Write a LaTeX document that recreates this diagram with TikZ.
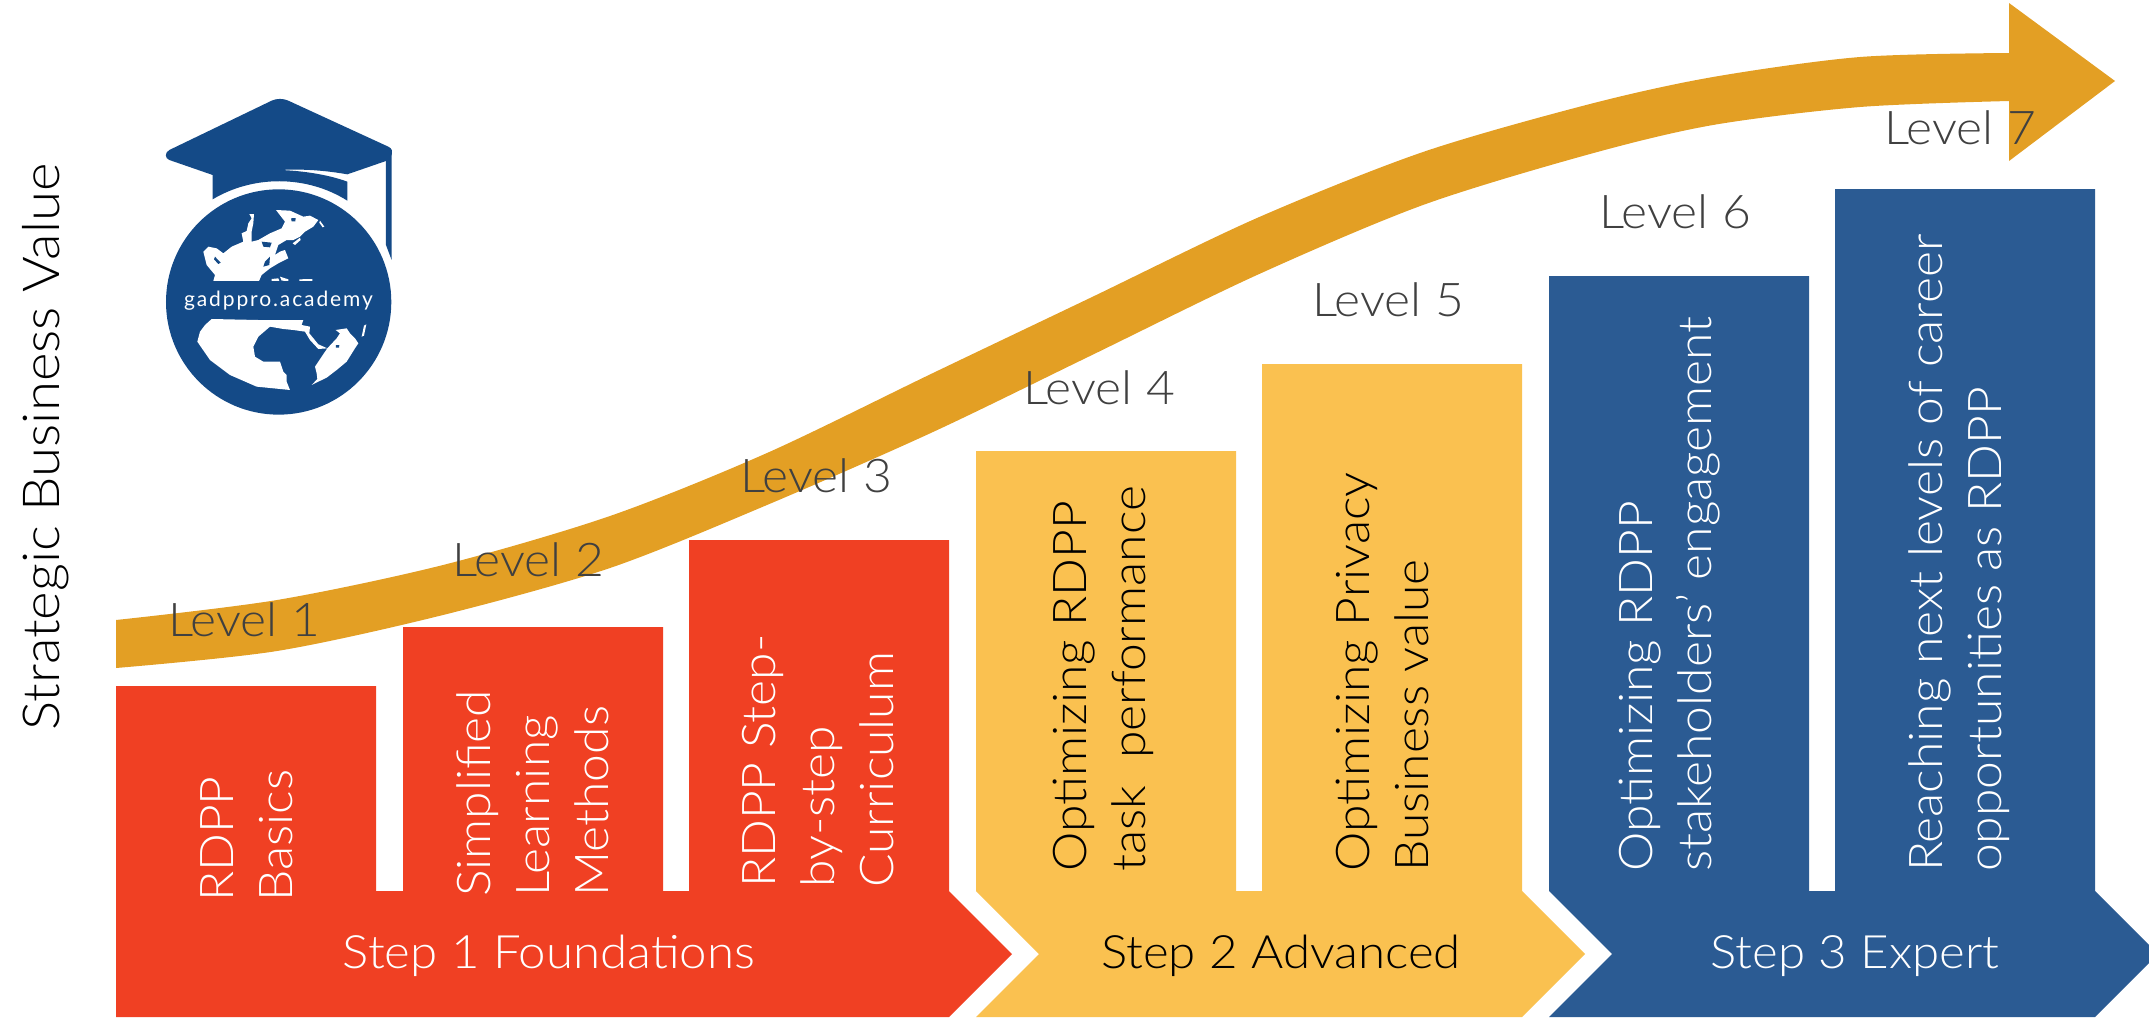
\documentclass[tikz,border=0pt]{standalone}
\usepackage{fontspec}
\setmainfont{Lato}[UprightFont=* Light,FakeStretch=1.07]
\newfontfamily\logofont{Lato}
\usetikzlibrary{calc}
\definecolor{gold}{HTML}{E39F24}
\definecolor{redc}{HTML}{F04023}
\definecolor{yelc}{HTML}{FAC150}
\definecolor{bluc}{HTML}{2B5B93}
\definecolor{logoc}{HTML}{144A87}
\definecolor{lvl}{HTML}{404040}
\newcommand\firststrut{\vrule height 40pt width 0pt\relax}
\tikzset{
  leveltxt/.style={anchor=base west,inner sep=0pt,text=lvl,font=\fontsize{46.5}{56}\selectfont},
  steptxt/.style={anchor=base,inner sep=0pt,font=\fontsize{46}{56}\selectfont},
  boxtxt/.style={anchor=north west,rotate=90,inner sep=0pt,align=left,font=\fontsize{46.5}{59}\selectfont},
  land/.style={fill=white,draw=none},
  sea/.style={fill=logoc,draw=none}
}
\begin{document}
\begin{tikzpicture}[x=1pt,y=-1pt]
\useasboundingbox (0,0) rectangle (2149,1018);
\clip (0,0) rectangle (2149,1018);
% swoosh
\fill[gold] plot[smooth,tension=.5] coordinates {(116,620) (277,600) (443,565) (610,516) (767,453) (933,373) (1090,298) (1257,218) (1423,152) (1590,104) (1713,77) (1860,57) (2009,53)}
  -- plot[smooth,tension=.5] coordinates {(2009,101) (1860,107) (1713,125) (1590,154) (1423,205) (1257,275) (1090,356) (933,432) (767,505) (610,568) (443,615) (277,651) (116,668)} -- cycle;
\fill[gold] (2009,3) -- (2115,81) -- (2009,161) -- cycle;
% red
\fill[redc] (116,1017) -- (116,686) -- (376,686) -- (376,891) -- (403,891) -- (403,627) -- (663,627) -- (663,891) -- (689,891) -- (689,540) -- (949,540) -- (949,891) -- (1012,954) -- (949,1017) -- cycle;
% yellow
\fill[yelc] (976,1017) -- (1039,954) -- (976,891) -- (976,451) -- (1236,451) -- (1236,891) -- (1262,891) -- (1262,364) -- (1522,364) -- (1522,891) -- (1585,954) -- (1522,1017) -- cycle;
% blue
\fill[bluc] (1549,1017) -- (1612,954) -- (1549,891) -- (1549,276) -- (1809,276) -- (1809,891) -- (1835,891) -- (1835,189) -- (2095,189) -- (2095,891) -- (2158,954) -- (2095,1017) -- cycle;
% logo
\begin{scope}[shift={(140,80)},x=0.3333pt,y=-0.3333pt]
  \fill[logoc] (395,62) .. controls (410,55) and (430,55) .. (445,62) -- (745,200) .. controls (757,206) and (757,212) .. (755,225) -- (738,243) -- (622,283) .. controls (560,272) and (490,266) .. (420,270) -- (420,270) .. controls (480,272) and (560,282) .. (622,305) -- (622,362) .. controls (500,285) and (340,285) .. (218,358) -- (218,285) -- (88,240) .. controls (74,235) and (74,218) .. (88,210) -- cycle;
  \fill[logoc] (738,215) -- (755,215) -- (755,540) -- (738,495) -- cycle;
  \fill[logoc] (416,666) circle (338);
\end{scope}
\begin{scope}[shift={(190,200)},x=0.3333pt,y=-0.3333pt]
  \fill[land] (70,243) -- (75,225) -- (50,195) -- (40,155) -- (55,140) -- (80,145) -- (100,160) -- (125,140) -- (160,125) -- (155,100) -- (170,93) -- (175,70) -- (185,55) -- (178,42) -- (192,42) -- (190,70) -- (185,95) -- (185,125) -- (205,120) -- (240,100) -- (275,85) -- (285,65) -- (258,30) -- (300,32) -- (340,50) -- (360,47) -- (385,60) -- (370,80) -- (345,95) -- (330,110) -- (310,120) -- (290,120) -- (265,135) -- (255,165) -- (270,155) -- (285,150) -- (295,175) -- (265,190) -- (240,205) -- (215,225) -- (207,243) -- cycle;
  \fill[sea] (215,125) -- (245,128) -- (240,142) -- (220,140) -- cycle;
  \fill[sea] (75,170) -- (92,188) -- (85,192) -- (72,178) -- cycle;
  \fill[sea] (303,55) -- (317,54) -- (316,64) -- (305,64) -- cycle;
  \fill[sea] (225,185) -- (240,170) -- (238,195) -- (220,200) -- cycle;
  \fill[land] (245,237) -- (265,235) -- (268,243) -- (245,243) -- cycle;
  \fill[land] (270,230) -- (295,238) -- (295,243) -- (275,242) -- cycle;
  \fill[land] (328,238) -- (367,237) -- (367,243) -- (328,243) -- cycle;
  \fill[land] (390,62) -- (403,80) -- (398,82) -- (388,68) -- cycle;
  \fill[land] (308,130) -- (330,113) -- (332,120) -- (315,135) -- cycle;
\end{scope}
\begin{scope}[shift={(190,305)},x=0.3333pt,y=-0.3333pt]
  \fill[land] (65,42) -- (205,45) -- (230,45) -- (340,45) -- (335,60) -- (360,65) -- (358,85) -- (385,118) -- (412,130) -- (385,132) -- (360,105) -- (345,80) -- (310,75) -- (280,72) -- (240,65) -- (205,95) -- (190,125) -- (195,155) -- (220,170) -- (270,170) -- (280,200) -- (290,210) -- (290,230) -- (300,255) -- (200,245) -- (120,210) -- (60,165) -- (22,110) -- (30,80) -- (45,60) -- cycle;
  \fill[land] (412,130) -- (440,100) -- (450,85) -- (437,75) -- (470,70) -- (480,85) -- (495,100) -- (505,115) -- (495,130) -- (470,170) -- (440,195) -- (410,218) -- (385,230) -- (365,240) -- (382,222) -- (380,205) -- (375,185) -- (395,155) -- cycle;
  \fill[sea] (438,120) -- (448,120) -- (447,128) -- (438,128) -- cycle;
  \fill[land] (515,95) -- (522,62) -- (529,58) -- (522,92) -- cycle;
\end{scope}
\node[inner sep=0pt,anchor=base,text=white,font=\logofont\fontsize{21}{26}\selectfont\addfontfeature{LetterSpace=9}] (logotext) at (278.5,306) {gadppro.academy};
% axis
\node[anchor=base,rotate=90,inner sep=0pt,font=\fontsize{51}{60}\selectfont] (axis) at (59,447) {Strategic Business Value};
% levels
\node[leveltxt] (l1) at (168,636) {Level 1};
\node[leveltxt] (l2) at (452,576) {Level 2};
\node[leveltxt] (l3) at (740,492) {Level 3};
\node[leveltxt] (l4) at (1023,404) {Level 4};
\node[leveltxt] (l5) at (1312,316) {Level 5};
\node[leveltxt] (l6) at (1599,228) {Level 6};
\node[leveltxt] (l7) at (1884,144) {Level 7};
% boxes
\node[boxtxt,text=white] (b1) at (193,902) {\firststrut RDPP\\Basics};
\node[boxtxt,text=white] (b2) at (450,897) {\firststrut Simplified\\Learning\\Methods};
\node[boxtxt,text=white] (b3) at (735,888) {\firststrut RDPP Step-\\by-step\\Curriculum};
\node[boxtxt,text=black] (b4) at (1046,872) {\firststrut Optimizing RDPP\\task\ \ performance};
\node[boxtxt,text=black] (b5) at (1329,872) {\firststrut Optimizing Privacy\\Business value};
\node[boxtxt,text=white] (b6) at (1612,872) {\firststrut Optimizing RDPP\\stakeholders\symbol{39} engagement};
\node[boxtxt,text=white] (b7) at (1902,872) {\firststrut Reaching next levels of career\\opportunities as RDPP};
% steps
\node[steptxt,text=white] (s1) at (549,968) {Step 1 Foundations};
\node[steptxt,text=black] (s2) at (1281,968) {Step 2 Advanced};
\node[steptxt,text=white] (s3) at (1855,968) {Step 3 Expert};
\end{tikzpicture}
\end{document}
